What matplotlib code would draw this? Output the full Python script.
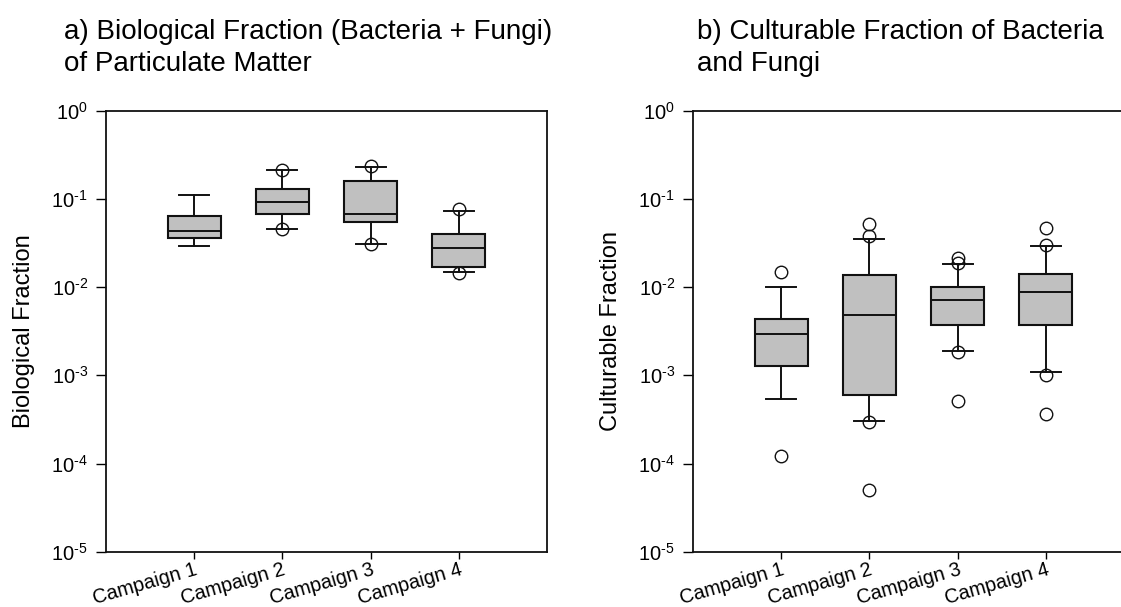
import matplotlib
matplotlib.use("Agg")
import matplotlib.pyplot as plt
from matplotlib.ticker import LogLocator, NullLocator, FuncFormatter
import numpy as np

plt.rcParams['font.family'] = ['Liberation Sans', 'DejaVu Sans']
plt.rcParams['mathtext.fontset'] = 'custom'
plt.rcParams['mathtext.rm'] = 'Liberation Sans'
plt.rcParams['mathtext.default'] = 'regular'
plt.rcParams['axes.unicode_minus'] = False

campaigns = ["Campaign 1", "Campaign 2", "Campaign 3", "Campaign 4"]

# Panel a: biological fraction
bio_whislo = [0.0295, 0.045, 0.0305, 0.0147]
bio_q1 = [0.0363, 0.068, 0.055, 0.0168]
bio_med = [0.0436, 0.0917, 0.067, 0.0275]
bio_q3 = [0.064, 0.129, 0.160, 0.0397]
bio_whishi = [0.111, 0.21, 0.23, 0.073]
bio_fliers = [[], [0.214, 0.045], [0.233, 0.0305], [0.077, 0.0143]]

# Panel b: culturable fraction
cul_whislo = [0.000533, 0.000302, 0.00189, 0.00108]
cul_q1 = [0.00128, 0.000593, 0.00373, 0.00371]
cul_med = [0.00297, 0.0048, 0.00717, 0.00885]
cul_q3 = [0.00433, 0.01368, 0.0100, 0.01406]
cul_whishi = [0.0100, 0.0351, 0.0184, 0.0289]
cul_fliers = [[0.0148, 0.000122],
              [0.052, 0.0383, 0.000295, 0.00005],
              [0.0214, 0.0190, 0.00183, 0.000507],
              [0.0463, 0.0302, 0.00102, 0.000366]]


def make_stats(lo, q1, med, q3, hi, fl):
    return [dict(whislo=a, q1=b, med=c, q3=d, whishi=e, fliers=f, label=n)
            for a, b, c, d, e, f, n in zip(lo, q1, med, q3, hi, fl, campaigns)]


def pow_fmt(v, pos):
    e = int(round(np.log10(v)))
    if e < 0:
        return r'$10^{\text{-}%d}$' % (-e)
    return r'$10^{%d}$' % e


W, H = 1121, 607
fig = plt.figure(figsize=(W / 100, H / 100), dpi=100)

ax_l, ax_w = 106 / W, 441 / W
ax_b, ax_h = (H - 551.7) / H, 441 / H
ax1 = fig.add_axes([ax_l, ax_b, ax_w, ax_h])
ax2 = fig.add_axes([693 / W, ax_b, ax_w, ax_h])

panels = [
    (ax1, make_stats(bio_whislo, bio_q1, bio_med, bio_q3, bio_whishi, bio_fliers),
     "Biological Fraction", "a) Biological Fraction (Bacteria + Fungi)\nof Particulate Matter", 64),
    (ax2, make_stats(cul_whislo, cul_q1, cul_med, cul_q3, cul_whishi, cul_fliers),
     "Culturable Fraction", "b) Culturable Fraction of Bacteria\nand Fungi", 697),
]

for ax, stats, ylab, title, tx in panels:
    ax.bxp(stats, positions=[1, 2, 3, 4], widths=0.6, capwidths=0.34,
           patch_artist=True, showfliers=True,
           boxprops=dict(facecolor='#c0c0c0', edgecolor='#111111', linewidth=1.5),
           whiskerprops=dict(color='#111111', linewidth=1.4),
           capprops=dict(color='#111111', linewidth=1.4),
           medianprops=dict(color='#111111', linewidth=1.4),
           flierprops=dict(marker='o', markerfacecolor='none', markeredgecolor='#111111',
                           markersize=9, markeredgewidth=1.0, linestyle='none'))
    ax.set_yscale('log')
    ax.set_ylim(1e-5, 1)
    ax.set_xlim(0, 5)
    ax.yaxis.set_major_locator(LogLocator(base=10, numticks=10))
    ax.yaxis.set_minor_locator(NullLocator())
    ax.yaxis.set_major_formatter(FuncFormatter(pow_fmt))
    ax.set_xticks([1, 2, 3, 4])
    ax.set_xticklabels(campaigns, rotation=16, ha='right', va='top', rotation_mode='anchor')
    ax.tick_params(axis='y', direction='out', length=7, width=1, labelsize=14.5, pad=6)
    ax.tick_params(axis='x', direction='out', length=5, width=1, labelsize=14.3, pad=1)
    for sp in ax.spines.values():
        sp.set_linewidth(1.3)
        sp.set_color('#111111')
    ax.set_ylabel(ylab, fontsize=17)
    ax.yaxis.set_label_coords(-0.16, 0.5)
    fig.text(tx / W, 1 - 48 / H, title, fontsize=20, ha='left', va='center', linespacing=1.28)

fig.savefig("out.png", dpi=100)
